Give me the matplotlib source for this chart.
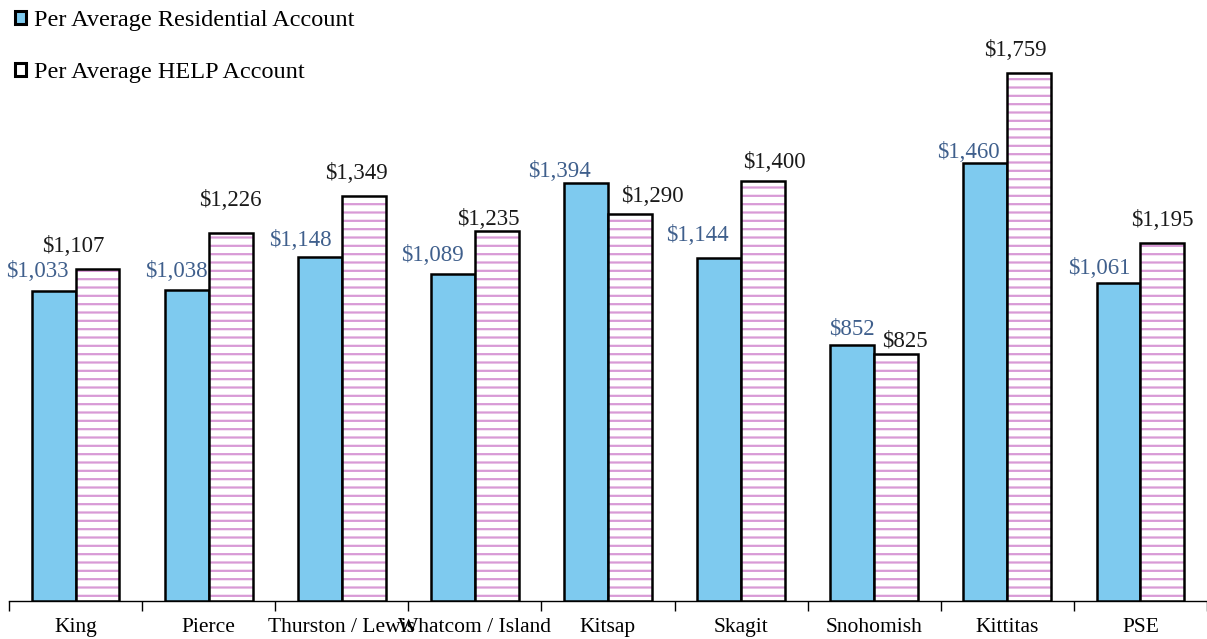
import numpy as np
import matplotlib.pyplot as plt
from matplotlib.patches import Patch

plt.rcParams['font.family'] = ['Liberation Serif', 'DejaVu Serif']
plt.rcParams['hatch.linewidth'] = 1.6

regions = ['King', 'Pierce', 'Thurston / Lewis', 'Whatcom / Island', 'Kitsap',
           'Skagit', 'Snohomish', 'Kittitas', 'PSE']
residential = [1033, 1038, 1148, 1089, 1394, 1144, 852, 1460, 1061]
help_acct = [1107, 1226, 1349, 1235, 1290, 1400, 825, 1759, 1195]

# hand-placed label nudges (pixels) relative to the top centre of each bar
res_dx = [-16, -10, -19, -20, -27, -22, 0, -17, -19]
res_dy = [20, 18, 16, 19, 11, 22, 16, 10, 14]
help_dx = [-24, 0, -7, -9, 22, 11, 9, -14, 0]
help_dy = [22, 33, 23, 11, 17, 18, 13, 23, 22]

blue = '#7ecaef'
pink = '#d89ad6'
label_blue = '#3f5f8c'

fig = plt.figure(figsize=(12.07, 6.39), dpi=100)
ax = fig.add_axes([9 / 1207, 38 / 639, 1198 / 1207, 600 / 639])

x = np.arange(len(regions))
w = 0.33

ax.bar(x - w / 2, residential, w, color=blue, edgecolor='black', linewidth=1.8, zorder=3)
# hatch first in pink, then a black outline on top
ax.bar(x + w / 2, help_acct, w, color='white', edgecolor=pink, hatch='--', linewidth=0, zorder=3)
ax.bar(x + w / 2, help_acct, w, fill=False, edgecolor='black', linewidth=1.8, zorder=4)

for xi, v, dx, dy in zip(x, residential, res_dx, res_dy):
    ax.annotate(f'${v:,}', (xi - w / 2, v), xytext=(dx, dy), textcoords='offset pixels',
                ha='center', va='center', fontsize=16.5, color=label_blue)
for xi, v, dx, dy in zip(x, help_acct, help_dx, help_dy):
    ax.annotate(f'${v:,}', (xi + w / 2, v), xytext=(dx, dy), textcoords='offset pixels',
                ha='center', va='center', fontsize=16.5, color='#1a1a1a')

ax.set_xlim(-0.5, len(regions) - 0.5)
ax.set_ylim(0, 2000)
ax.set_xticks(x)
ax.set_xticklabels(regions, fontsize=15.5)
ax.set_xticks(np.arange(len(regions) + 1) - 0.5, minor=True)
ax.tick_params(axis='x', which='major', length=0, pad=12)
ax.tick_params(axis='x', which='minor', length=7, width=1, direction='out')
ax.set_yticks([])
for s in ['left', 'right', 'top']:
    ax.spines[s].set_visible(False)
ax.spines['bottom'].set_linewidth(1)

handles = [Patch(facecolor=blue, edgecolor='black', linewidth=2.2),
           Patch(facecolor='white', edgecolor='black', linewidth=2.2)]
leg = fig.legend(handles, ['Per Average Residential Account', 'Per Average HELP Account'],
                 loc='upper left', bbox_to_anchor=(15 / 1207, 1 - 10 / 639), frameon=False,
                 fontsize=17.5, handlelength=0.45, handleheight=0.45,
                 handletextpad=0.33, labelspacing=1.27, borderpad=0, borderaxespad=0)

fig.savefig('out.png', dpi=100)
